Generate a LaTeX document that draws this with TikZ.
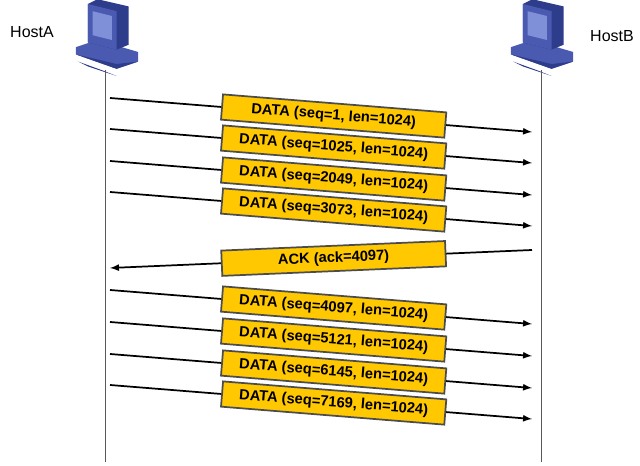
\documentclass[tikz,border=0pt]{standalone}
\usepackage{fontspec}
\setmainfont{Liberation Sans}
\definecolor{boxy}{HTML}{FFC800}
\definecolor{pcd}{HTML}{2E3C8C}\definecolor{pcm}{HTML}{4A5AB0}\definecolor{pcl}{HTML}{7F8FD8}
\begin{document}
\begin{tikzpicture}[x=0.75pt,y=-0.75pt,
  msg/.style={line width=1.3pt,-latex},
  box/.style={draw=black!70,fill=boxy,minimum width=168pt,minimum height=19pt,inner sep=0pt,font=\bfseries\fontsize{11}{12}\selectfont,sloped},
  host/.style={font=\fontsize{12}{14}\selectfont}]
\useasboundingbox (0,0) rectangle (640,466);
\newcommand{\pc}[2]{%
 \begin{scope}[shift={(#1,#2)},scale=1.2]
  \fill[pcm] (-26,22) -- (8,34) -- (26,28) -- (26,20) -- (-8,10) -- (-26,16) -- cycle;
  \fill[pcd] (-26,22) -- (8,34) -- (26,28) -- (8,30) -- cycle;
  \fill[pcd] (-16,12) -- (-16,-20) -- (-8,-24) -- (18,-18) -- (18,14) -- (8,18) -- cycle;
  \fill[pcm] (-16,-20) -- (8,-14) -- (8,18) -- (-16,12) -- cycle;
  \fill[pcl] (-12,-14) -- (4,-10) -- (4,10) -- (-12,6) -- cycle;
  \fill[pcd] (-24,28) -- (-2,36) -- (8,40) -- (-16,32) -- cycle;
 \end{scope}}
\pc{107}{28}\pc{542}{28}
\node[host] (ha) at (32,32) {HostA};
\node[host] (hb) at (612,36) {HostB};
\coordinate (ta) at (105,70); \coordinate (ba) at (105,462);
\coordinate (tb) at (541,70); \coordinate (bb) at (541,462);
\draw[gray!70!black] (ta) -- (ba); \draw[gray!70!black] (tb) -- (bb);
\foreach \y/\t [count=\i] in {98/1,129/1025,161/2049,192/3073,290/4097,322/5121,354/6145,385/7169}{
  \coordinate (s\i) at (110,\y); \coordinate (e\i) at (532,\y+34);
  \draw[msg] (s\i) -- node[box,pos=.53] (m\i) {DATA (seq=\t, len=1024)} (e\i);
}
\coordinate (ks) at (532,250); \coordinate (ke) at (110,268);
\draw[msg] (ks) -- node[box,pos=.47] (mk) {ACK (ack=4097)} (ke);
\end{tikzpicture}
\end{document}
